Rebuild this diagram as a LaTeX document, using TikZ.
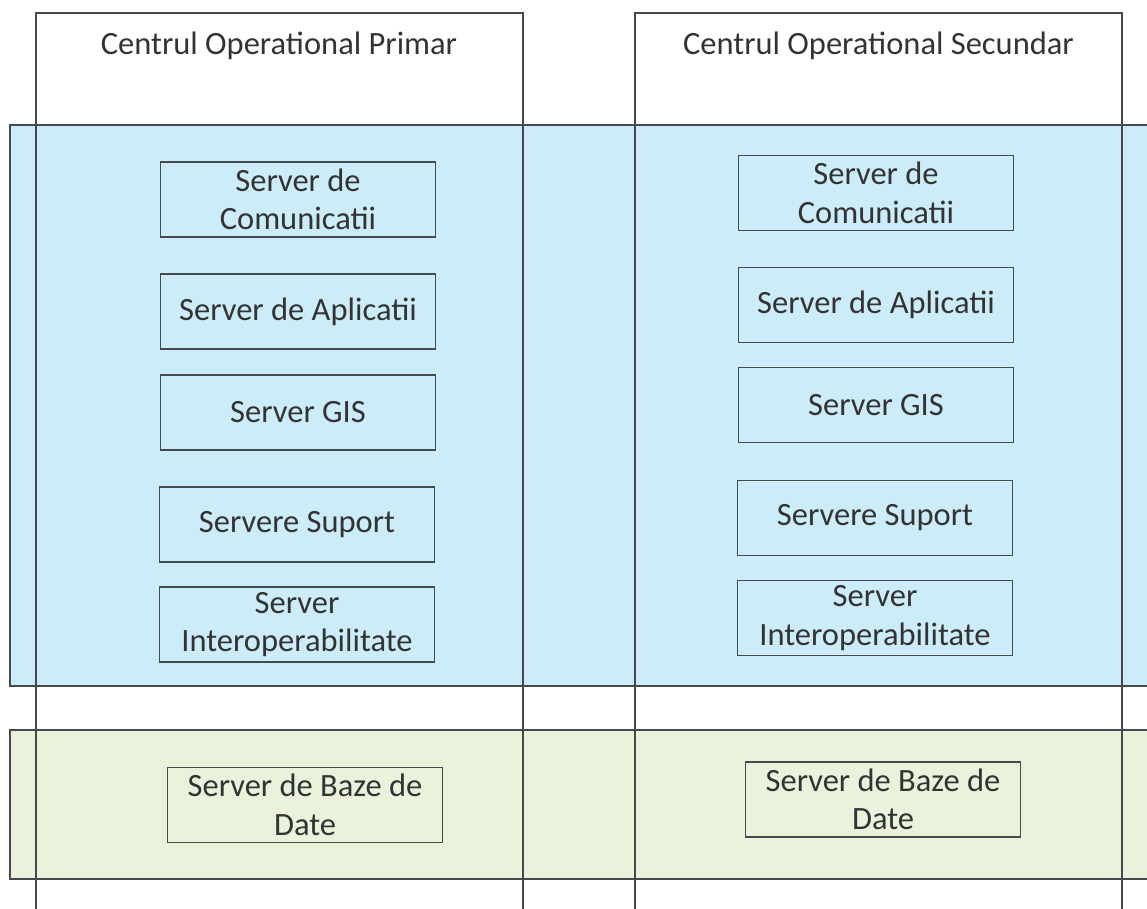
\documentclass[tikz,border=0pt]{standalone}
\usepackage{fontspec}
\setmainfont{Carlito}
\usepackage{xcolor}
\definecolor{bandblue}{RGB}{204,236,249}
\definecolor{bandgreen}{RGB}{233,243,220}
\definecolor{linegray}{RGB}{70,74,78}

\begin{document}
\begin{tikzpicture}[x=0.02cm,y=-0.02cm,
  every node/.style={font=\fontsize{18.5}{22}\selectfont, text=black!80},
  srvbox/.style={draw=linegray, line width=0.7pt, minimum width=5.5cm, minimum height=1.5cm, align=center, inner sep=0pt},
  band/.style={draw=linegray, line width=0.7pt}]
\useasboundingbox (0,0) rectangle (1147,909);
\begin{scope}
\clip (0,0) rectangle (1147,909);
% benzile de fundal
\draw [band, fill=bandblue] (10,125) rectangle (1160,686);
\draw [band, fill=bandgreen] (10,730) rectangle (1160,879);
% coloanele
\draw [linegray, line width=0.7pt] (36,920) -- (36,13) -- (523,13) -- (523,920);
\draw [linegray, line width=0.7pt] (635,920) -- (635,13) -- (1122,13) -- (1122,920);
\end{scope}
\node (titluP) at (279,46) {Centrul Operational Primar};
\node (titluS) at (878.5,46) {Centrul Operational Secundar};
% centrul primar
\node [srvbox] (comP) at (298,199.5) {Server de\\Comunicatii};
\node [srvbox] (aplP) at (298,311.5) {Server de Aplicatii};
\node [srvbox] (gisP) at (298,412.5) {Server GIS};
\node [srvbox] (supP) at (297,524.5) {Servere Suport};
\node [srvbox] (intP) at (297,624.5) {Server\\Interoperabilitate};
\node [srvbox] (bdP) at (305,805) {Server de Baze de\\Date};
% centrul secundar
\node [srvbox] (comS) at (876,193) {Server de\\Comunicatii};
\node [srvbox] (aplS) at (876,305) {Server de Aplicatii};
\node [srvbox] (gisS) at (876,405) {Server GIS};
\node [srvbox] (supS) at (875,518) {Servere Suport};
\node [srvbox] (intS) at (875,618) {Server\\Interoperabilitate};
\node [srvbox] (bdS) at (883,799.5) {Server de Baze de\\Date};
\end{tikzpicture}
\end{document}
